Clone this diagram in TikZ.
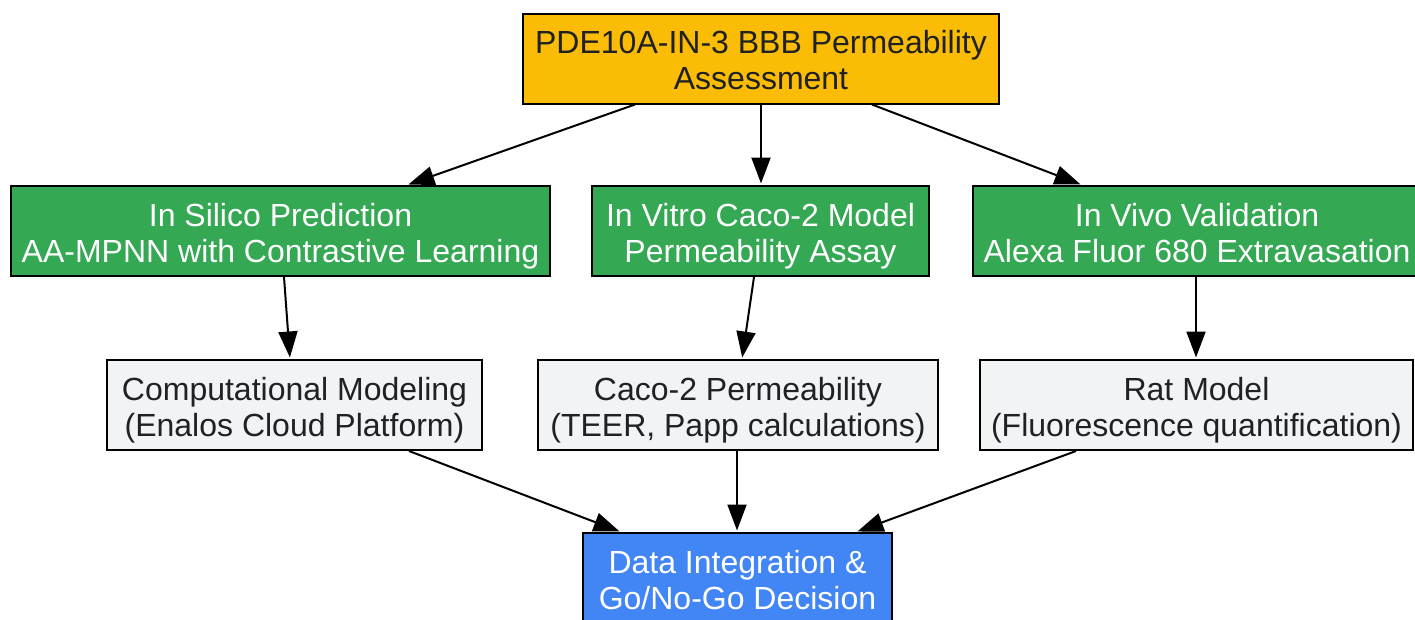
\documentclass[tikz,border=0pt]{standalone}
\usepackage{fontspec}
\setmainfont{Liberation Sans}
\usetikzlibrary{arrows.meta}
\definecolor{cOrange}{HTML}{FBBC05}
\definecolor{cGreen}{HTML}{34A853}
\definecolor{cBlue}{HTML}{4285F4}
\definecolor{cGray}{HTML}{F1F3F4}
\definecolor{cText}{HTML}{202124}
\newcommand{\firstln}{\rule[-7pt]{0pt}{40pt}}
\newcommand{\secondln}{\rule[-7pt]{0pt}{29pt}}
\begin{document}
\begin{tikzpicture}[x=1pt,y=-1pt,
  box/.style={draw=black,line width=2pt,rectangle,align=center,inner sep=0pt,
    minimum height=90pt,font=\fontsize{32}{36}\selectfont},
  orangebox/.style={box,fill=cOrange,text=cText},
  greenbox/.style={box,fill=cGreen,text=white},
  graybox/.style={box,fill=cGray,text=cText},
  bluebox/.style={box,fill=cBlue,text=white},
  conn/.style={line width=2pt,shorten >=1.5pt,-{Triangle[length=26pt,width=19pt]}}]
\useasboundingbox (0,0) rectangle (1415,619);
\node[orangebox,minimum width=476pt] (top) at (761,58.5) {\firstln PDE10A-IN-3 BBB Permeability\\\secondln Assessment};
\node[greenbox,minimum width=539pt] (g1) at (280.5,231) {\firstln In Silico Prediction\\\secondln AA-MPNN with Contrastive Learning};
\node[greenbox,minimum width=337pt] (g2) at (760.5,231) {\firstln In Vitro Caco-2 Model\\\secondln Permeability Assay};
\node[greenbox,minimum width=448pt] (g3) at (1197,231) {\firstln In Vivo Validation\\\secondln Alexa Fluor 680 Extravasation};
\node[graybox,minimum width=375pt] (r1) at (294.5,405) {\firstln Computational Modeling\\\secondln (Enalos Cloud Platform)};
\node[graybox,minimum width=400pt] (r2) at (738,405) {\firstln Caco-2 Permeability\\\secondln (TEER, Papp calculations)};
\node[graybox,minimum width=433pt] (r3) at (1196.5,405) {\firstln Rat Model\\\secondln (Fluorescence quantification)};
\node[bluebox,minimum width=309pt] (d) at (737.5,578) {\firstln Data Integration \&\\\secondln Go/No-Go Decision};
\draw[conn] ([xshift=113pt]top.south west) -- ([xshift=397pt]g1.north west);
\draw[conn] ([xshift=239pt]top.south west) -- ([xshift=170pt]g2.north west);
\draw[conn] ([xshift=350pt]top.south west) -- ([xshift=110pt]g3.north west);
\draw[conn] ([xshift=274pt]g1.south west) -- ([xshift=184pt]r1.north west);
\draw[conn] ([xshift=163pt]g2.south west) -- ([xshift=205pt]r2.north west);
\draw[conn] ([xshift=224pt]g3.south west) -- ([xshift=217pt]r3.north west);
\draw[conn] ([xshift=303pt]r1.south west) -- ([xshift=39pt]d.north west);
\draw[conn] ([xshift=200pt]r2.south west) -- ([xshift=155pt]d.north west);
\draw[conn] ([xshift=97pt]r3.south west) -- ([xshift=274pt]d.north west);
\end{tikzpicture}
\end{document}
